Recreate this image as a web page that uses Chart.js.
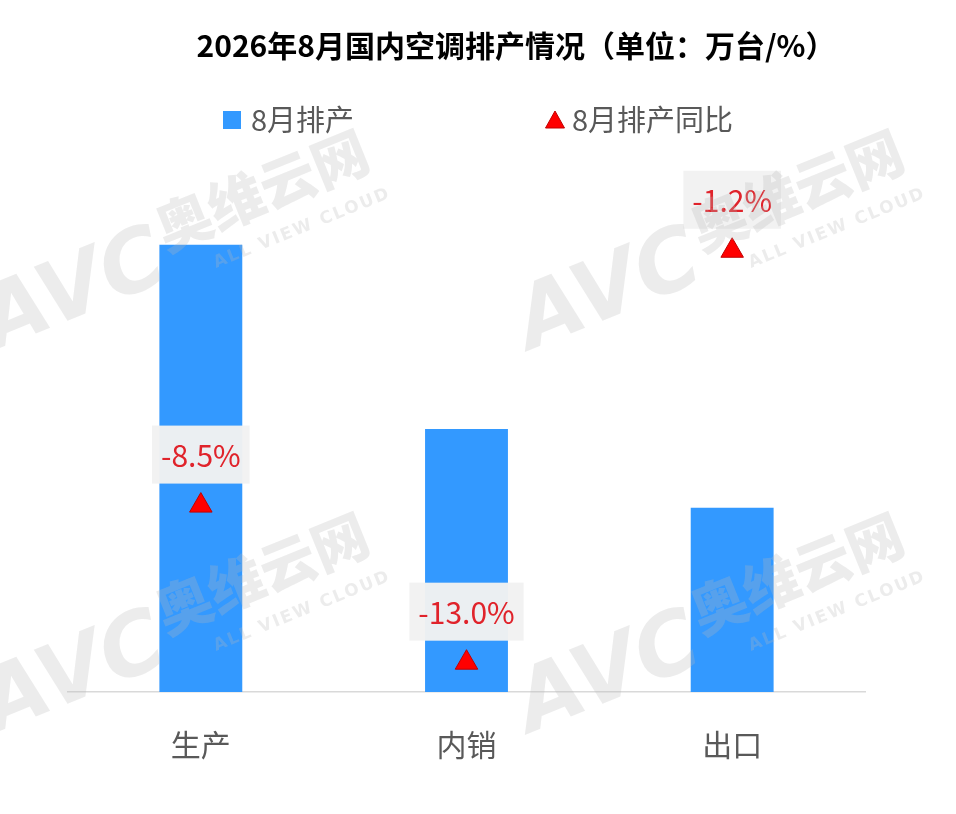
<!DOCTYPE html>
<html><head><meta charset="utf-8">
<script src="https://cdn.jsdelivr.net/npm/chart.js@4.4.1/dist/chart.umd.min.js"></script>
<style>html,body{margin:0;padding:0;background:#fff;overflow:hidden}#wrap{width:956px;height:814px;position:relative}</style>
</head><body><div id="wrap"><canvas id="c" width="956" height="814"></canvas></div>
<script>
const chartTitle = '2026年8月国内空调排产情况（单位：万台/%）';
const categories = ['生产', '内销', '出口'];
const volumeLabel = '8月排产';
const volumes = [1117, 657, 460];
const yoyLabel = '8月排产同比';
const yoy = [-8.5, -13.0, -1.2];

const CJK = '"Noto Sans CJK SC", "Noto Sans", sans-serif';
const BLUE = '#3399ff';
const RED = '#ff0000';

function drawWatermark(ctx) {
  ctx.save();
  ctx.fillStyle = 'rgba(185,185,185,0.27)';
  const offs = [[0, 0], [535, 0], [0, 383], [535, 383]];
  const ang = -22 * Math.PI / 180;
  offs.forEach(([dx, dy]) => {
    const items = [
      ['AVC', -5, 350, 'italic 900 86px "DejaVu Sans", sans-serif', 0],
      ['奥维云网', 166, 252, '900 56px ' + CJK, 0],
      ['ALL VIEW CLOUD', 216, 268, 'bold 17px "DejaVu Sans", sans-serif', 2]
    ];
    items.forEach(([t, x, y, f, ls]) => {
      ctx.save();
      ctx.translate(x + dx, y + dy);
      ctx.rotate(ang);
      ctx.font = f;
      ctx.letterSpacing = ls + 'px';
      ctx.textAlign = 'left';
      ctx.textBaseline = 'alphabetic';
      ctx.fillText(t, 0, 0);
      ctx.restore();
    });
  });
  ctx.restore();
}

const decorPlugin = {
  id: 'decor',
  afterDraw(chart) {
    const ctx = chart.ctx;
    ctx.save();
    // title
    ctx.fillStyle = '#000000';
    ctx.font = 'bold 30px ' + CJK;
    ctx.textAlign = 'center';
    ctx.textBaseline = 'middle';
    ctx.fillText(chartTitle, 516, 46);
    // legend
    ctx.font = '29px ' + CJK;
    ctx.textAlign = 'left';
    ctx.fillStyle = BLUE;
    ctx.fillRect(223, 111, 18, 18);
    ctx.fillStyle = '#595959';
    ctx.fillText(volumeLabel, 251, 120);
    ctx.fillStyle = RED;
    ctx.strokeStyle = '#c00000';
    ctx.lineWidth = 1;
    ctx.beginPath();
    ctx.moveTo(555, 111); ctx.lineTo(564.5, 128); ctx.lineTo(545.5, 128); ctx.closePath();
    ctx.fill(); ctx.stroke();
    ctx.fillStyle = '#595959';
    ctx.fillText(yoyLabel, 572, 120);
    // data labels for yoy
    const meta = chart.getDatasetMeta(1);
    ctx.font = '30px ' + CJK;
    ctx.textAlign = 'center';
    meta.data.forEach((pt, i) => {
      const txt = yoy[i].toFixed(1) + '%';
      const w = ctx.measureText(txt).width + 18;
      const h = 58;
      const cy = pt.y - 51;
      ctx.fillStyle = 'rgba(242,242,242,0.97)';
      ctx.fillRect(pt.x - w / 2, cy - h / 2, w, h);
      ctx.fillStyle = '#e0232b';
      ctx.fillText(txt, pt.x, cy + 1);
    });
    ctx.restore();
    drawWatermark(ctx);
  }
};

new Chart(document.getElementById('c'), {
  data: {
    labels: categories,
    datasets: [
      {
        type: 'bar',
        label: volumeLabel,
        data: volumes,
        backgroundColor: BLUE,
        borderWidth: 0,
        categoryPercentage: 1,
        barPercentage: 0.312,
        yAxisID: 'y',
        order: 2
      },
      {
        type: 'line',
        label: yoyLabel,
        data: yoy,
        showLine: false,
        pointStyle: 'triangle',
        pointRadius: 13,
        pointHoverRadius: 13,
        pointBackgroundColor: RED,
        pointBorderColor: '#c00000',
        pointBorderWidth: 1,
        yAxisID: 'y2',
        order: 1
      }
    ]
  },
  options: {
    responsive: false,
    animation: false,
    devicePixelRatio: 1,
    layout: { padding: { top: 160, left: 68, right: 91, bottom: 16 } },
    plugins: {
      legend: { display: false },
      title: { display: false },
      tooltip: { enabled: false }
    },
    scales: {
      x: {
        grid: { display: false, drawTicks: false },
        border: { display: true, color: '#d9d9d9', width: 1.5 },
        ticks: { color: '#595959', font: { family: CJK, size: 30 }, padding: 35 }
      },
      y: { display: false, min: 0, max: 1329 },
      y2: { display: false, min: -13.84, max: 1.40 }
    }
  },
  plugins: [decorPlugin]
});
</script>
</body></html>
